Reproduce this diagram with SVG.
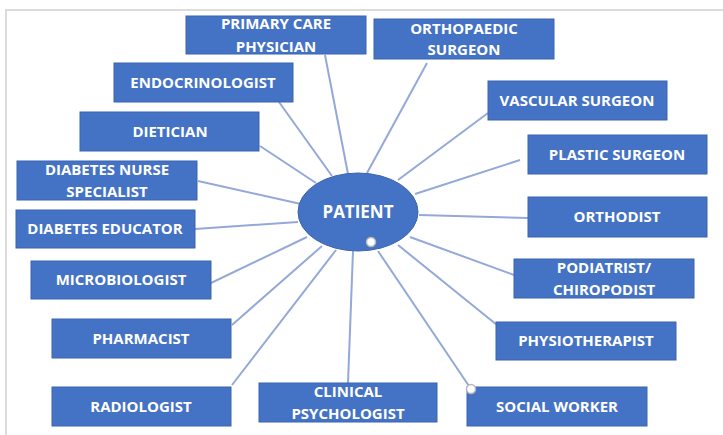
<svg xmlns="http://www.w3.org/2000/svg" width="723" height="435" viewBox="0 0 723 435">
<style>
.box{fill:#4472c4;stroke:#3b64b0;stroke-width:1}
.t{fill:#ffffff;font-family:"Open Sans","Liberation Sans",sans-serif;font-weight:700;font-size:15px;text-anchor:middle}
.c{stroke:#94a9d8;stroke-width:2;fill:none}
.dot{fill:#ffffff;stroke:#b8b8b8;stroke-width:1.5}
</style>
<rect width="723" height="435" fill="#ffffff"/>
<g id="frame" fill="none" stroke="#dcdcdc" stroke-width="2">
<path d="M6 435 V10 H723"/>
</g>
<g id="connectors">
<line class="c" x1="325" y1="55" x2="348" y2="174"/>
<line class="c" x1="279" y1="102" x2="332" y2="176"/>
<line class="c" x1="260" y1="146" x2="316" y2="183"/>
<line class="c" x1="198" y1="181" x2="301" y2="204"/>
<line class="c" x1="195" y1="229" x2="298" y2="222"/>
<line class="c" x1="211" y1="283" x2="307" y2="237"/>
<line class="c" x1="232" y1="325" x2="322" y2="246"/>
<line class="c" x1="232" y1="385" x2="336" y2="250"/>
<line class="c" x1="348" y1="383" x2="353" y2="251"/>
<line class="c" x1="427" y1="63" x2="367" y2="173"/>
<line class="c" x1="488" y1="113" x2="398" y2="180"/>
<line class="c" x1="520" y1="160" x2="415" y2="194"/>
<line class="c" x1="419" y1="215" x2="528" y2="218"/>
<line class="c" x1="410" y1="237" x2="514" y2="275"/>
<line class="c" x1="398" y1="245" x2="497" y2="325"/>
<line class="c" x1="378" y1="251" x2="471" y2="389"/>
</g>
<g id="patient">
<ellipse cx="358" cy="212" rx="60" ry="39" fill="#4472c4" stroke="#3b64b0"/>
<text class="t" x="358" y="218" style="font-size:17px">PATIENT</text>
<circle class="dot" cx="371" cy="242" r="4.5"/>
</g>
<g id="primary-care-physician"><rect class="box" x="186" y="16" width="180" height="38"/><text class="t" x="276" y="29">PRIMARY CARE</text><text class="t" x="276" y="52">PHYSICIAN</text></g>
<g id="endocrinologist"><rect class="box" x="114" y="63" width="179" height="39"/><text class="t" x="203" y="88">ENDOCRINOLOGIST</text></g>
<g id="dietician"><rect class="box" x="80" y="112" width="179" height="39"/><text class="t" x="170" y="137">DIETICIAN</text></g>
<g id="diabetes-nurse-specialist"><rect class="box" x="17" y="161" width="180" height="39"/><text class="t" x="107" y="175">DIABETES NURSE</text><text class="t" x="107" y="197">SPECIALIST</text></g>
<g id="diabetes-educator"><rect class="box" x="16" y="210" width="179" height="38"/><text class="t" x="105" y="234">DIABETES EDUCATOR</text></g>
<g id="microbiologist"><rect class="box" x="31" y="261" width="180" height="38"/><text class="t" x="121" y="285">MICROBIOLOGIST</text></g>
<g id="pharmacist"><rect class="box" x="52" y="319" width="179" height="39"/><text class="t" x="141" y="344">PHARMACIST</text></g>
<g id="radiologist"><rect class="box" x="52" y="387" width="179" height="39"/><text class="t" x="141" y="412">RADIOLOGIST</text></g>
<g id="clinical-psychologist"><rect class="box" x="259" y="383" width="178" height="39"/><text class="t" x="348" y="397">CLINICAL</text><text class="t" x="348" y="419">PSYCHOLOGIST</text></g>
<g id="orthopaedic-surgeon"><rect class="box" x="374" y="19" width="180" height="40"/><text class="t" x="464" y="34">ORTHOPAEDIC</text><text class="t" x="464" y="55">SURGEON</text></g>
<g id="vascular-surgeon"><rect class="box" x="488" y="81" width="179" height="39"/><text class="t" x="577" y="106">VASCULAR SURGEON</text></g>
<g id="plastic-surgeon"><rect class="box" x="528" y="135" width="179" height="39"/><text class="t" x="617" y="160">PLASTIC SURGEON</text></g>
<g id="orthodist"><rect class="box" x="528" y="197" width="179" height="40"/><text class="t" x="617" y="222">ORTHODIST</text></g>
<g id="podiatrist-chiropodist"><rect class="box" x="514" y="259" width="180" height="39"/><text class="t" x="604" y="273">PODIATRIST/</text><text class="t" x="604" y="295">CHIROPODIST</text></g>
<g id="physiotherapist"><rect class="box" x="496" y="322" width="180" height="38"/><text class="t" x="586" y="346">PHYSIOTHERAPIST</text></g>
<g id="social-worker"><rect class="box" x="467" y="387" width="180" height="39"/><text class="t" x="557" y="412">SOCIAL WORKER</text><circle class="dot" cx="471" cy="389" r="4.5"/></g>
</svg>
